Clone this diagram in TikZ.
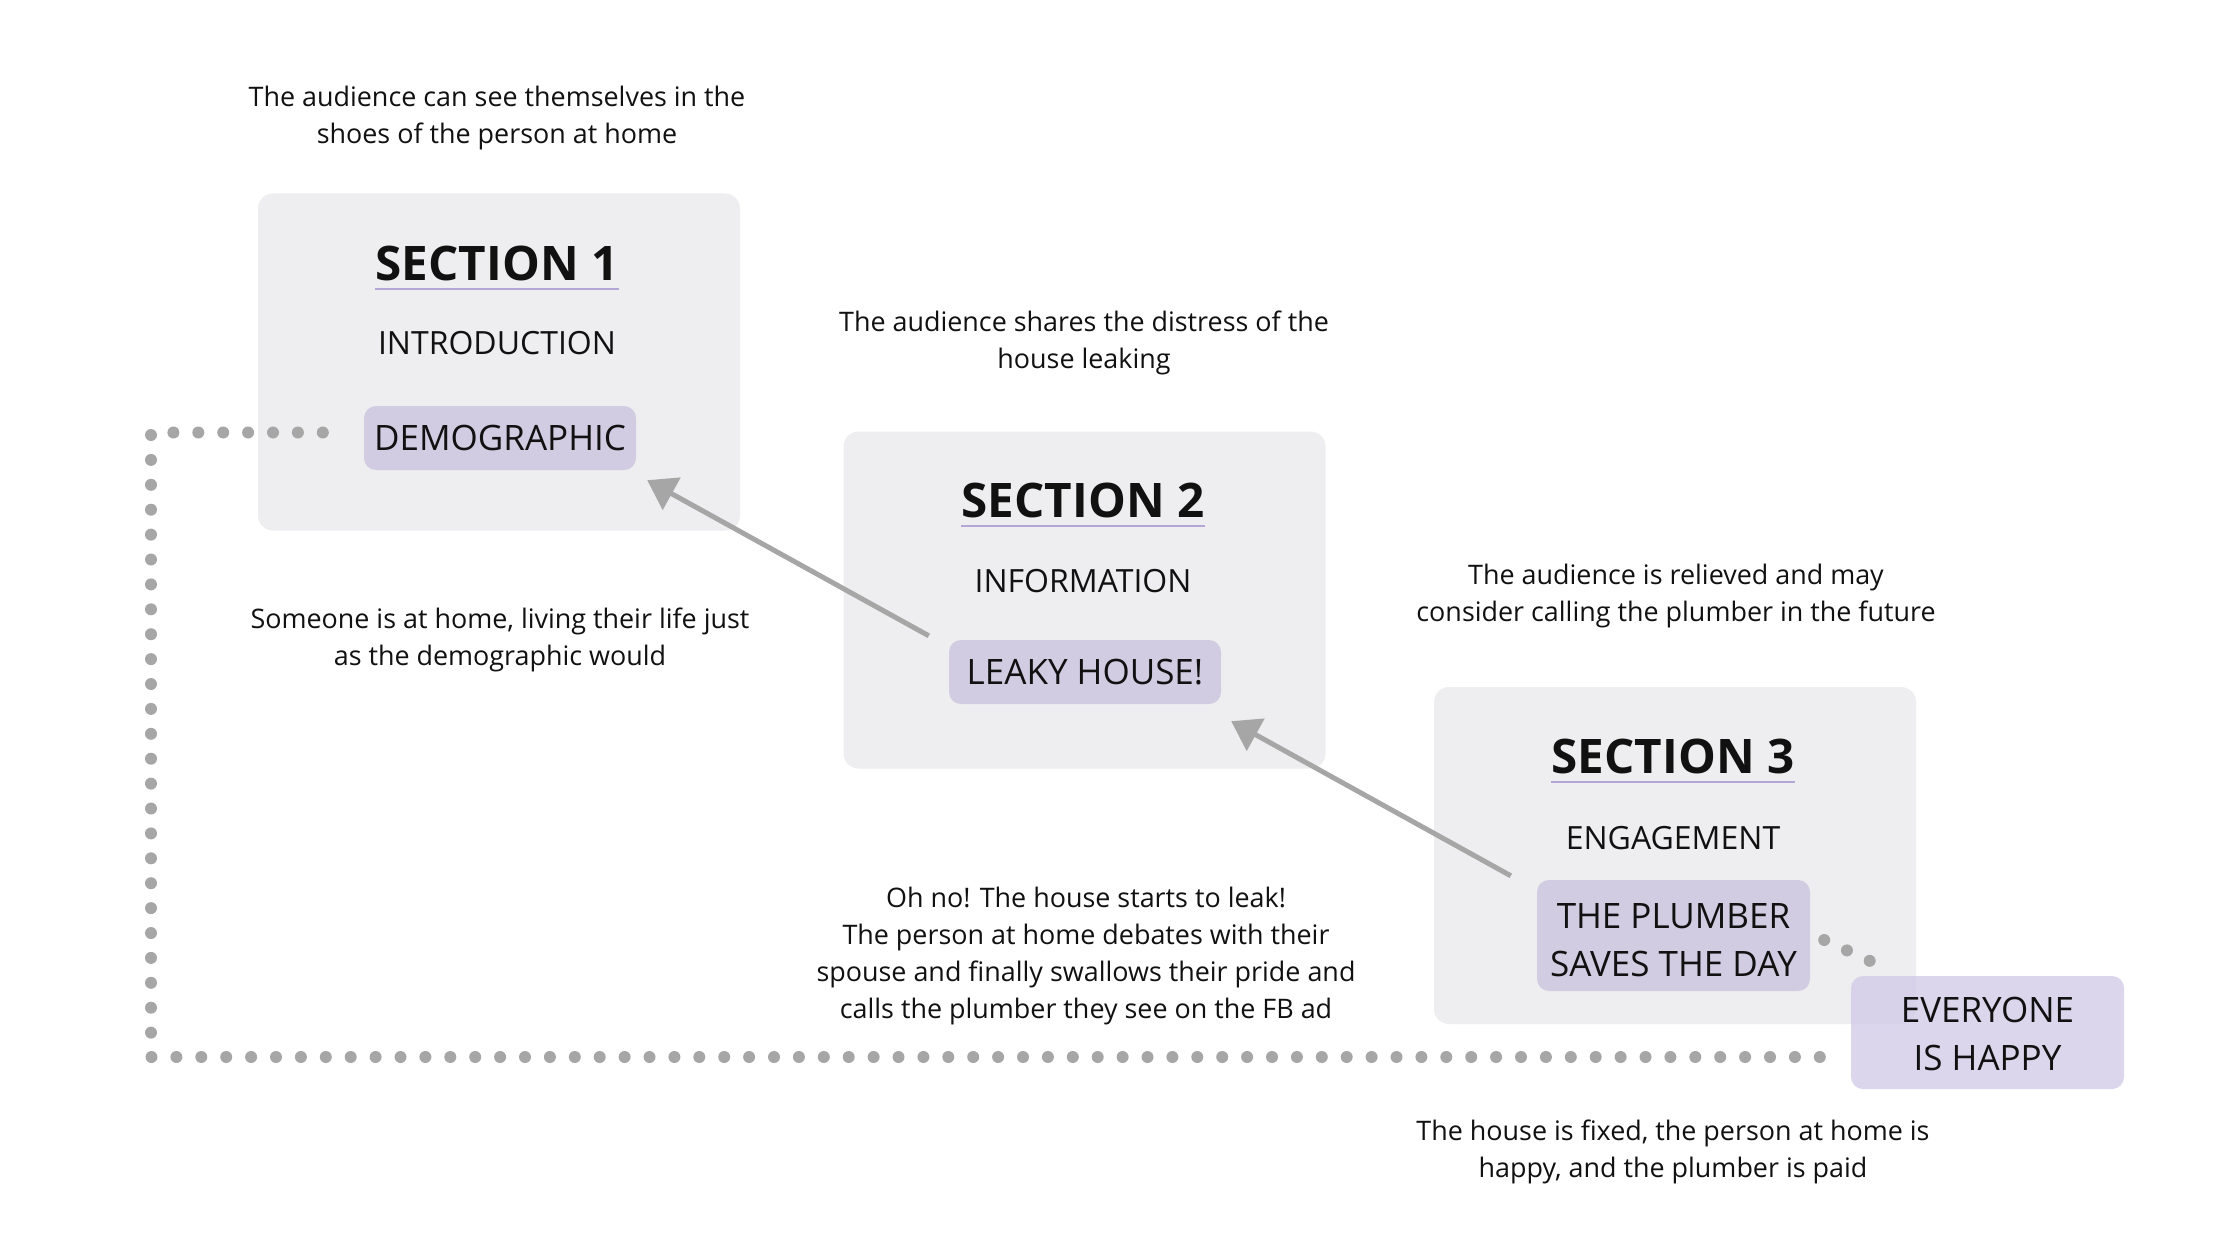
\documentclass[tikz,border=0pt]{standalone}
\usepackage{fontspec}
\setmainfont{Open Sans}
\usetikzlibrary{arrows.meta}
\definecolor{boxgray}{HTML}{EEEEF0}
\definecolor{inpurple}{HTML}{D1CCE1}
\definecolor{evpurple}{HTML}{D2CCE8}
\definecolor{ulpurple}{HTML}{B4A7D6}
\definecolor{dotgray}{HTML}{A6A6A6}
\definecolor{txt}{HTML}{111111}
\newcommand\fbody{\fontsize{26.9}{37}\selectfont}
\newcommand\fhead{\fontsize{47.6}{56}\selectfont\bfseries}
\newcommand\fsub{\fontsize{32}{40}\selectfont}
\newcommand\finner{\fontsize{35}{48}\selectfont}
\begin{document}
\begin{tikzpicture}[x=1pt,y=-1pt,
  secbox/.style={fill=boxgray,rounded corners=15pt,minimum width=482pt,minimum height=337pt,inner sep=0pt},
  innerbox/.style={fill=inpurple,rounded corners=12pt,minimum width=272pt,inner sep=0pt,text=txt,font=\finner,align=center},
  head/.style={inner sep=0pt,text=txt,font=\fhead},
  sub/.style={inner sep=0pt,text=txt,font=\fsub},
  note/.style={inner sep=0pt,text=txt,font=\fbody,align=center},
  uline/.style={draw=ulpurple,line width=2.5pt},
  arr/.style={draw=dotgray,line width=5pt,-{Triangle[length=28pt,width=36pt]}},
  dotline/.style={draw=dotgray,line width=12pt,line cap=round,dash pattern=on 0pt off 24.9pt}]
\useasboundingbox (0,0) rectangle (2240,1260);
\fill[white] (0,0) rectangle (2240,1260);

% section boxes
\node[secbox] (b1) at (499,362) {};
\node[secbox] (b2) at (1084.5,600) {};
\node[secbox] (b3) at (1675,855.5) {};

% headings
\node[head] (s1) at (497,263) {SECTION 1};
\node[head] (s2) at (1083,500) {SECTION 2};
\node[head] (s3) at (1673,756) {SECTION 3};
\draw[uline] ([yshift=-9pt]s1.base west) -- ([yshift=-9pt]s1.base east);
\draw[uline] ([yshift=-9pt]s2.base west) -- ([yshift=-9pt]s2.base east);
\draw[uline] ([yshift=-9pt]s3.base west) -- ([yshift=-9pt]s3.base east);

\node[sub] (u1) at (497,343) {INTRODUCTION};
\node[sub] (u2) at (1083,581.5) {INFORMATION};
\node[sub] (u3) at (1673,838) {ENGAGEMENT};

% inner boxes
\node[innerbox,minimum height=64pt] (demo) at (500,438) {DEMOGRAPHIC};
\node[innerbox,minimum height=64pt] (leaky) at (1085,672) {LEAKY HOUSE!};
\node[innerbox,minimum height=111pt,minimum width=273pt] (plumber) at (1673.5,935.5) {\raisebox{-5pt}[\height][\depth]{\parbox{273pt}{\centering THE PLUMBER\\SAVES THE DAY}}};
\node[innerbox,fill=evpurple,fill opacity=0.8,text opacity=1,minimum height=113pt,minimum width=273pt] (every) at (1987.5,1032.5) {\raisebox{-1.5pt}[\height][\depth]{\parbox{273pt}{\centering EVERYONE\\IS HAPPY}}};

% notes
\node[note] (t1) at (497,118.5) {The audience can see themselves in the\\shoes of the person at home};
\node[note] (t2) at (500,640) {Someone is at home, living their life just\\as the demographic would};
\node[note] (t3) at (1084,343) {The audience shares the distress of the\\house leaking};
\node[note] (t4) at (1086,956) {Oh no! The house starts to leak!\\The person at home debates with their\\spouse and finally swallows their pride and\\calls the plumber they see on the FB ad};
\node[note] (t5) at (1676,596) {The audience is relieved and may\\consider calling the plumber in the future};
\node[note] (t6) at (1673,1152) {The house is fixed, the person at home is\\happy, and the plumber is paid};

% arrows
\draw[arr] ([shift={(-20,-4)}]leaky.north west) -- ([shift={(11,10)}]demo.south east);
\draw[arr] ([shift={(-26,-4)}]plumber.north west) -- ([shift={(10,17)}]leaky.south east);

% dotted connectors
\coordinate (dstart) at ([shift={(-41,-5.5)}]demo.west);
\coordinate (dcorner) at (151,1057);
\coordinate (dend) at ([shift={(-31,24.5)}]every.west);
\draw[dotline] (dstart) -| (dcorner) -- (dend);
\draw[dotline,dash pattern=on 0pt off 25pt] ([shift={(14,4.5)}]plumber.east) -- ([shift={(19.5,-14.7)}]every.north west);
\end{tikzpicture}
\end{document}
